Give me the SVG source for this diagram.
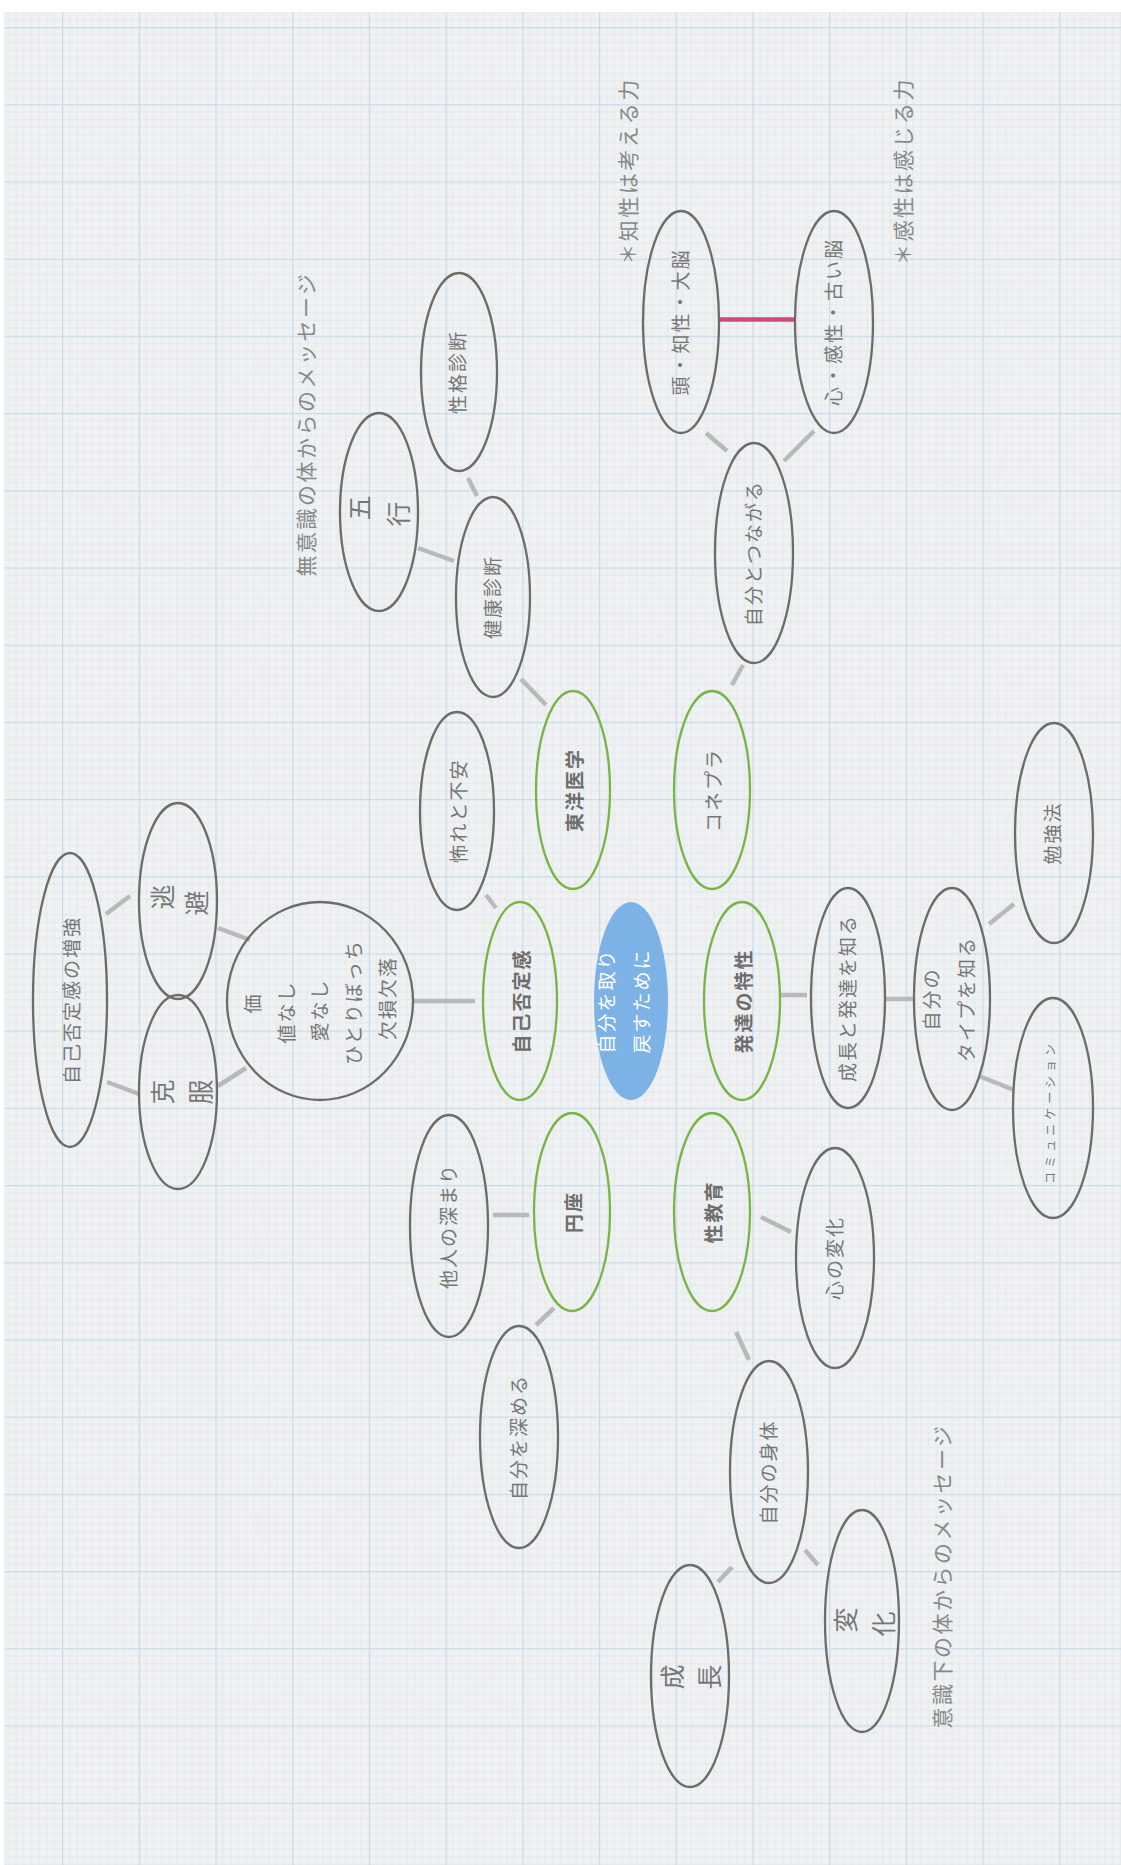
<svg xmlns="http://www.w3.org/2000/svg" width="1121" height="1865" viewBox="0 0 1121 1865">
<defs>
<pattern id="grid" patternUnits="userSpaceOnUse" x="62" y="27" width="76.7" height="77.2">
<rect width="76.7" height="77.2" fill="#eff1f2"/>
<g stroke="#e0e7ec" stroke-width="0.8">
<path d="M7.67 0V77.2M15.34 0V77.2M23.01 0V77.2M30.68 0V77.2M38.35 0V77.2M46.02 0V77.2M53.69 0V77.2M61.36 0V77.2M69.03 0V77.2"/>
<path d="M0 7.72H76.7M0 15.44H76.7M0 23.16H76.7M0 30.88H76.7M0 38.6H76.7M0 46.32H76.7M0 54.04H76.7M0 61.76H76.7M0 69.48H76.7"/>
</g>
<path d="M0.6 0V77.2M0 0.6H76.7" stroke="#c9dcea" stroke-width="1.3"/>
</pattern>
<style>
.g{fill:none;stroke:#6f6b69;stroke-width:2.3}
.gr{fill:none;stroke:#79b446;stroke-width:2.3}
.c{stroke:#b9b9b9;stroke-width:4.5;fill:none}
.t{font-family:"Noto Sans CJK JP",sans-serif;fill:#777;font-size:19px;letter-spacing:2px;text-anchor:middle;dominant-baseline:central}
.b{font-weight:bold;fill:#6e6e6e}
.big{font-size:25px;letter-spacing:0}
.sm{font-size:12px;letter-spacing:4px}
.lab{font-family:"Noto Sans CJK JP",sans-serif;fill:#888;font-size:21px;letter-spacing:2.5px;text-anchor:middle;dominant-baseline:central}
</style>
</defs>
<rect width="1121" height="1865" fill="#ffffff"/>
<rect x="4" y="12" width="1117" height="1853" fill="url(#grid)"/>

<g id="connectors">
<path class="c" d="M414 1001H475"/>
<path class="c" d="M218 928L250 940"/>
<path class="c" d="M218 1086L246 1068"/>
<path class="c" d="M106 914L130 896"/>
<path class="c" d="M107 1082L139 1094"/>
<path class="c" d="M486 895L496 908"/>
<path class="c" d="M521 679L546 705"/>
<path class="c" d="M418 548L454 561"/>
<path class="c" d="M468 478L477 496"/>
<path class="c" d="M732 685L743 665"/>
<path class="c" d="M706 433L727 451"/>
<path class="c" d="M784 461L814 431"/>
<path d="M719 319.5H794" stroke="#cf4a7c" stroke-width="4.5" fill="none"/>
<path class="c" d="M779 995H807"/>
<path class="c" d="M886 999H914"/>
<path class="c" d="M989 924L1014 904"/>
<path class="c" d="M979 1076L1014 1090"/>
<path class="c" d="M493 1215H529"/>
<path class="c" d="M536 1325L554 1308"/>
<path class="c" d="M761 1217L791 1232"/>
<path class="c" d="M736 1332L749 1360"/>
<path class="c" d="M718 1582L732 1567"/>
<path class="c" d="M805 1550L818 1565"/>
</g>

<g id="n-center">
<ellipse cx="631" cy="1001" rx="37" ry="99" fill="#7db2e6"/>
<text class="t" style="fill:#fff" transform="translate(605 1001) rotate(-90)">自分を取り</text>
<text class="t" style="fill:#fff" transform="translate(640 1001) rotate(-90)">戻すために</text>
</g>

<g id="n-jikohitei">
<ellipse class="gr" cx="520" cy="1001" rx="37" ry="99"/>
<text class="t b" transform="translate(520 1001) rotate(-90)">自己否定感</text>
</g>
<g id="n-hattatsu">
<ellipse class="gr" cx="742" cy="1001" rx="38" ry="99"/>
<text class="t b" transform="translate(742 1001) rotate(-90)">発達の特性</text>
</g>
<g id="n-toyo">
<ellipse class="gr" cx="573" cy="790" rx="37" ry="99"/>
<text class="t b" transform="translate(573 790) rotate(-90)">東洋医学</text>
</g>
<g id="n-konepura">
<ellipse class="gr" cx="712" cy="790" rx="38" ry="99"/>
<text class="t" transform="translate(712 790) rotate(-90)">コネプラ</text>
</g>
<g id="n-enza">
<ellipse class="gr" cx="572" cy="1212" rx="38" ry="99"/>
<text class="t b" transform="translate(572 1212) rotate(-90)">円座</text>
</g>
<g id="n-seikyoiku">
<ellipse class="gr" cx="712" cy="1212" rx="38" ry="99"/>
<text class="t b" transform="translate(712 1212) rotate(-90)">性教育</text>
</g>

<g id="n-osore">
<ellipse class="g" cx="457" cy="811" rx="37" ry="99"/>
<text class="t" transform="translate(457 811) rotate(-90)">怖れと不安</text>
</g>
<g id="n-kachi">
<ellipse class="g" cx="320" cy="1001" rx="93" ry="99"/>
<text class="t" transform="translate(251 1003) rotate(-90)">価</text>
<text class="t" transform="translate(285 1012) rotate(-90)">値なし</text>
<text class="t" transform="translate(318 1010) rotate(-90)">愛なし</text>
<text class="t" transform="translate(352 1002) rotate(-90)">ひとりぼっち</text>
<text class="t" transform="translate(386 998) rotate(-90)">欠損欠落</text>
</g>
<g id="n-tohi">
<ellipse class="g" cx="178" cy="901" rx="39" ry="98"/>
<text class="t big" transform="translate(161 897) rotate(-90)">逃</text>
<text class="t big" transform="translate(195 903) rotate(-90)">避</text>
</g>
<g id="n-kokufuku">
<ellipse class="g" cx="178" cy="1092" rx="39" ry="97"/>
<text class="t big" transform="translate(161 1092) rotate(-90)">克</text>
<text class="t big" transform="translate(199 1092) rotate(-90)">服</text>
</g>
<g id="n-zokyo">
<ellipse class="g" cx="70" cy="1000" rx="37" ry="147"/>
<text class="t" transform="translate(70 1000) rotate(-90)">自己否定感の増強</text>
</g>
<g id="n-tanin">
<ellipse class="g" cx="449" cy="1226" rx="39" ry="111"/>
<text class="t" transform="translate(447 1226) rotate(-90)">他人の深まり</text>
</g>
<g id="n-jibunfukameru">
<ellipse class="g" cx="519" cy="1437" rx="39" ry="111"/>
<text class="t" transform="translate(517 1437) rotate(-90)">自分を深める</text>
</g>
<g id="n-kokoro">
<ellipse class="g" cx="835" cy="1258" rx="39" ry="110"/>
<text class="t" transform="translate(833 1258) rotate(-90)">心の変化</text>
</g>
<g id="n-shintai">
<ellipse class="g" cx="769" cy="1472" rx="39" ry="111"/>
<text class="t" transform="translate(767 1472) rotate(-90)">自分の身体</text>
</g>
<g id="n-seicho">
<ellipse class="g" cx="690" cy="1676" rx="39" ry="111"/>
<text class="t big" transform="translate(671 1677) rotate(-90)">成</text>
<text class="t big" transform="translate(708 1677) rotate(-90)">長</text>
</g>
<g id="n-henka">
<ellipse class="g" cx="862" cy="1621" rx="37" ry="111"/>
<text class="t big" transform="translate(844 1620) rotate(-90)">変</text>
<text class="t big" transform="translate(882 1624) rotate(-90)">化</text>
</g>
<g id="n-seichohattatsu">
<ellipse class="g" cx="848" cy="998" rx="37" ry="110"/>
<text class="t" transform="translate(846 998) rotate(-90)">成長と発達を知る</text>
</g>
<g id="n-type">
<ellipse class="g" cx="952" cy="999" rx="38" ry="111"/>
<text class="t" transform="translate(930 999) rotate(-90)">自分の</text>
<text class="t" transform="translate(965 999) rotate(-90)">タイプを知る</text>
</g>
<g id="n-benkyo">
<ellipse class="g" cx="1054" cy="833" rx="39" ry="110"/>
<text class="t" transform="translate(1051 833) rotate(-90)">勉強法</text>
</g>
<g id="n-comm">
<ellipse class="g" cx="1053" cy="1108" rx="40" ry="110"/>
<text class="t sm" transform="translate(1049 1112) rotate(-90)">コミュニケーション</text>
</g>
<g id="n-kenko">
<ellipse class="g" cx="493" cy="597" rx="37" ry="100"/>
<text class="t" transform="translate(491 597) rotate(-90)">健康診断</text>
</g>
<g id="n-gogyo">
<ellipse class="g" cx="379" cy="512" rx="39" ry="99"/>
<text class="t big" transform="translate(358 508) rotate(-90)">五</text>
<text class="t big" transform="translate(397 514) rotate(-90)">行</text>
</g>
<g id="n-seikaku">
<ellipse class="g" cx="459" cy="372" rx="38" ry="99"/>
<text class="t" transform="translate(456 372) rotate(-90)">性格診断</text>
</g>
<g id="n-tsunagaru">
<ellipse class="g" cx="754" cy="553" rx="39" ry="110"/>
<text class="t" transform="translate(752 553) rotate(-90)">自分とつながる</text>
</g>
<g id="n-atama">
<ellipse class="g" cx="681" cy="322" rx="38" ry="111"/>
<text class="t" transform="translate(679 322) rotate(-90)">頭・知性・大脳</text>
</g>
<g id="n-kansei">
<ellipse class="g" cx="834" cy="322" rx="39" ry="111"/>
<text class="t" transform="translate(832 322) rotate(-90)">心・感性・古い脳</text>
</g>

<g id="labels">
<text class="lab" transform="translate(305 424) rotate(-90)">無意識の体からのメッセージ</text>
<text class="lab" transform="translate(627 171) rotate(-90)">＊知性は考える力</text>
<text class="lab" transform="translate(902 171) rotate(-90)">＊感性は感じる力</text>
<text class="lab" transform="translate(941 1576) rotate(-90)">意識下の体からのメッセージ</text>
</g>
</svg>
